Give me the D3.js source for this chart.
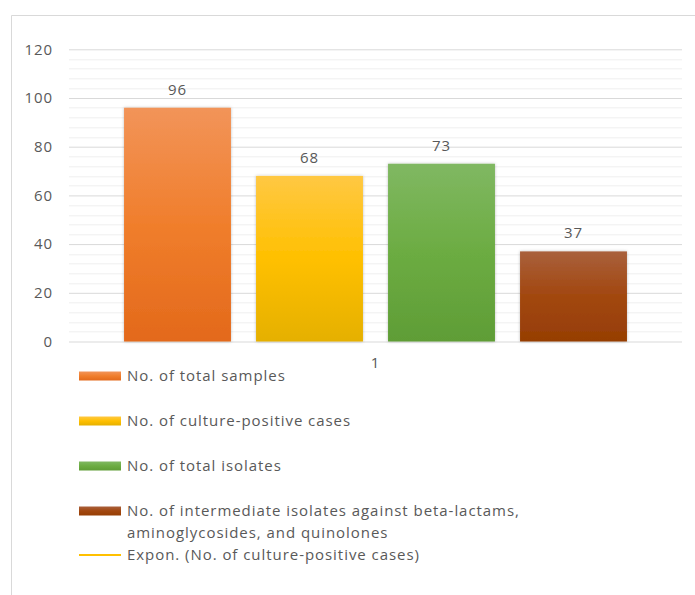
<!DOCTYPE html>
<html>
<head>
<meta charset="utf-8">
<script src="https://cdn.jsdelivr.net/npm/d3@7"></script>
<style>
  body { margin: 0; background: #fff; }
  text { font-family: "Open Sans", "Liberation Sans", sans-serif; fill: #595959; letter-spacing: 0.95px; }
</style>
</head>
<body>
<div id="chart"></div>
<script>
// Data
const categories = ["1"];
const seriesNames = [
  "No. of total samples",
  "No. of culture-positive cases",
  "No. of total isolates",
  "No. of intermediate isolates against beta-lactams, aminoglycosides, and quinolones"
];
const seriesValues = [96, 68, 73, 37];
const yTicks = [0, 20, 40, 60, 80, 100, 120];
const trendName = "Expon. (No. of culture-positive cases)";

// Gradient stops per series (top, middle, bottom)
const palette = [
  ["#f29459", "#f07e2c", "#e3691b"],
  ["#ffc843", "#ffc000", "#e5b000"],
  ["#80b862", "#6cac42", "#5f9d36"],
  ["#a9603c", "#a2470f", "#963e04"]
];

const W = 695, H = 595;
const margin = { top: 49.3, left: 69, right: 13, bottom: 253.5 };
const plotW = W - margin.left - margin.right;
const plotH = H - margin.top - margin.bottom;
const fontSize = "15px";

const svg = d3.select("#chart").append("svg")
  .attr("width", W)
  .attr("height", H);

const defs = svg.append("defs");
palette.forEach((p, i) => {
  const g = defs.append("linearGradient")
    .attr("id", "grad" + i)
    .attr("x1", 0).attr("y1", 0).attr("x2", 0).attr("y2", 1);
  g.append("stop").attr("offset", "0%").attr("stop-color", p[0]);
  g.append("stop").attr("offset", "50%").attr("stop-color", p[1]);
  g.append("stop").attr("offset", "100%").attr("stop-color", p[2]);
});
const shadow = defs.append("filter").attr("id", "shadow")
  .attr("x", "-10%").attr("y", "-10%").attr("width", "120%").attr("height", "120%");
shadow.append("feDropShadow")
  .attr("dx", 0).attr("dy", 0).attr("stdDeviation", 1.5)
  .attr("flood-color", "#000").attr("flood-opacity", 0.25);

// Chart frame (left and top edges visible)
svg.append("path")
  .attr("d", `M11.5,${H} V15.5 H${W}`)
  .attr("fill", "none")
  .attr("stroke", "#d9d9d9")
  .attr("stroke-width", 1);

const g = svg.append("g")
  .attr("transform", `translate(${margin.left},${margin.top})`);

// Scales
const y = d3.scaleLinear().domain([0, 120]).range([plotH, 0]);
const x0 = d3.scaleBand().domain(categories).range([0, plotW]).padding(0);
const x1 = d3.scaleBand().domain(seriesNames).range([0, x0.bandwidth()])
  .paddingInner(0.19).paddingOuter(0.417);

// Minor gridlines
const minor = d3.range(0, 121, 4).filter(v => v % 20 !== 0);
g.append("g")
  .selectAll("line")
  .data(minor)
  .join("line")
  .attr("x1", 0).attr("x2", plotW)
  .attr("y1", d => Math.round(y(d)) + 0.5)
  .attr("y2", d => Math.round(y(d)) + 0.5)
  .attr("stroke", "#efefef");

// Major gridlines + y axis labels
const yAxis = g.append("g")
  .call(d3.axisLeft(y).tickValues(yTicks).tickSize(-plotW).tickPadding(16));
yAxis.select(".domain").remove();
yAxis.selectAll(".tick line").attr("stroke", "#d9d9d9");
yAxis.selectAll(".tick text")
  .style("font-size", fontSize)
  .attr("fill", "#595959");

// Bars
const cat = g.selectAll(".cat")
  .data(categories)
  .join("g")
  .attr("transform", d => `translate(${x0(d)},0)`);

cat.selectAll("rect")
  .data(seriesNames.map((n, i) => ({ name: n, value: seriesValues[i], i })))
  .join("rect")
  .attr("x", d => x1(d.name))
  .attr("y", d => y(d.value))
  .attr("width", x1.bandwidth())
  .attr("height", d => plotH - y(d.value))
  .attr("fill", d => `url(#grad${d.i})`)
  .attr("filter", "url(#shadow)");

// Value labels
cat.selectAll(".val")
  .data(seriesNames.map((n, i) => ({ name: n, value: seriesValues[i] })))
  .join("text")
  .attr("class", "val")
  .attr("x", d => x1(d.name) + x1.bandwidth() / 2)
  .attr("y", d => y(d.value) - 13)
  .attr("text-anchor", "middle")
  .style("font-size", fontSize)
  .text(d => d.value);

// Category axis label
g.selectAll(".catlabel")
  .data(categories)
  .join("text")
  .attr("x", d => x0(d) + x0.bandwidth() / 2)
  .attr("y", plotH + 27)
  .attr("text-anchor", "middle")
  .style("font-size", fontSize)
  .text(d => d);

// Legend
const legend = svg.append("g");
const legendY = [376, 421, 466, 511];
const legendLines = [
  ["No. of total samples"],
  ["No. of culture-positive cases"],
  ["No. of total isolates"],
  ["No. of intermediate isolates against beta-lactams,", "aminoglycosides, and quinolones"]
];
seriesNames.forEach((n, i) => {
  legend.append("rect")
    .attr("x", 79).attr("y", legendY[i] - 4.5)
    .attr("width", 42).attr("height", 9)
    .attr("fill", `url(#grad${i})`);
  const t = legend.append("text")
    .attr("x", 127)
    .attr("y", legendY[i] + 5)
    .style("font-size", fontSize);
  legendLines[i].forEach((l, j) => {
    t.append("tspan").attr("x", 127).attr("dy", j === 0 ? 0 : 21.5).text(l);
  });
});
legend.append("line")
  .attr("x1", 79).attr("x2", 121)
  .attr("y1", 555).attr("y2", 555)
  .attr("stroke", "#ffc000").attr("stroke-width", 2);
legend.append("text")
  .attr("x", 127).attr("y", 560)
  .style("font-size", fontSize)
  .text(trendName);
</script>
</body>
</html>
